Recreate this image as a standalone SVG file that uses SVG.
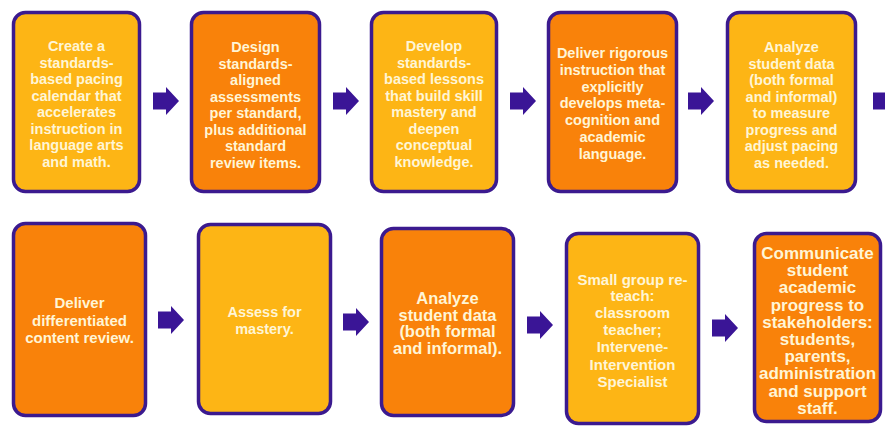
<svg xmlns="http://www.w3.org/2000/svg" xmlns:xlink="http://www.w3.org/1999/xlink" width="885" height="427" viewBox="0 0 885 427">
<style>
.box{stroke:#3B1A8F;stroke-width:3.5}
.y{fill:#FDB515}
.o{fill:#F9820A}
text{font-family:"Liberation Sans",Arial,sans-serif;font-weight:bold;fill:#FFF5D6;text-anchor:middle}
.s{font-size:14.5px}
.arrow{fill:#3A1596}
</style>
<defs>
<path id="arr" d="M0,-8.5 H13 V-14 L26,0 L13,14 V8.5 H0 Z"/>
</defs>
<rect width="885" height="427" fill="#ffffff"/>
<g id="connectors" class="arrow">
<use xlink:href="#arr" x="153" y="101"/>
<use xlink:href="#arr" x="333" y="101"/>
<use xlink:href="#arr" x="510" y="101"/>
<use xlink:href="#arr" x="688" y="101"/>
<use xlink:href="#arr" x="873" y="101"/>
<use xlink:href="#arr" x="158" y="320"/>
<use xlink:href="#arr" x="343" y="322"/>
<use xlink:href="#arr" x="527" y="325"/>
<use xlink:href="#arr" x="712" y="328"/>
</g>
<g id="n1">
<rect class="box y" x="13.5" y="12.5" width="126" height="179" rx="12"/>
<text class="s"><tspan x="76.5" y="51">Create a</tspan><tspan x="76.5" y="67.5">standards-</tspan><tspan x="76.5" y="84">based pacing</tspan><tspan x="76.5" y="100.5">calendar that</tspan><tspan x="76.5" y="117">accelerates</tspan><tspan x="76.5" y="133.5">instruction in</tspan><tspan x="76.5" y="150">language arts</tspan><tspan x="76.5" y="166.5">and math.</tspan></text>
</g>
<g id="n2">
<rect class="box o" x="191.5" y="12.5" width="128" height="179" rx="12"/>
<text class="s"><tspan x="255.5" y="52">Design</tspan><tspan x="255.5" y="68.5">standards-</tspan><tspan x="255.5" y="85">aligned</tspan><tspan x="255.5" y="101.5">assessments</tspan><tspan x="255.5" y="118">per standard,</tspan><tspan x="255.5" y="134.5">plus additional</tspan><tspan x="255.5" y="151">standard</tspan><tspan x="255.5" y="167.5">review items.</tspan></text>
</g>
<g id="n3">
<rect class="box y" x="371.5" y="12.5" width="125" height="179" rx="12"/>
<text class="s"><tspan x="434" y="51">Develop</tspan><tspan x="434" y="67.5">standards-</tspan><tspan x="434" y="84">based lessons</tspan><tspan x="434" y="100.5">that build skill</tspan><tspan x="434" y="117">mastery and</tspan><tspan x="434" y="133.5">deepen</tspan><tspan x="434" y="150">conceptual</tspan><tspan x="434" y="166.5">knowledge.</tspan></text>
</g>
<g id="n4">
<rect class="box o" x="548.5" y="12.5" width="128" height="179" rx="12"/>
<text class="s"><tspan x="612.5" y="58">Deliver rigorous</tspan><tspan x="612.5" y="74.8">instruction that</tspan><tspan x="612.5" y="91.6">explicitly</tspan><tspan x="612.5" y="108.4">develops meta-</tspan><tspan x="612.5" y="125.2">cognition and</tspan><tspan x="612.5" y="142">academic</tspan><tspan x="612.5" y="158.8">language.</tspan></text>
</g>
<g id="n5">
<rect class="box y" x="727.5" y="12.5" width="128" height="179" rx="12"/>
<text class="s"><tspan x="791.5" y="52">Analyze</tspan><tspan x="791.5" y="68.5">student data</tspan><tspan x="791.5" y="85">(both formal</tspan><tspan x="791.5" y="101.5">and informal)</tspan><tspan x="791.5" y="118">to measure</tspan><tspan x="791.5" y="134.5">progress and</tspan><tspan x="791.5" y="151">adjust pacing</tspan><tspan x="791.5" y="167.5">as needed.</tspan></text>
</g>
<g id="n6">
<rect class="box o" x="13.5" y="223.5" width="132" height="192" rx="12"/>
<text style="font-size:15px"><tspan x="79.5" y="308">Deliver</tspan><tspan x="79.5" y="325.5">differentiated</tspan><tspan x="79.5" y="343">content review.</tspan></text>
</g>
<g id="n7">
<rect class="box y" x="198.5" y="224.5" width="132" height="189" rx="12"/>
<text class="s"><tspan x="264.5" y="317">Assess for</tspan><tspan x="264.5" y="333.5">mastery.</tspan></text>
</g>
<g id="n8">
<rect class="box o" x="381.5" y="228.5" width="132" height="187" rx="12"/>
<text style="font-size:16.5px"><tspan x="447.5" y="304">Analyze</tspan><tspan x="447.5" y="320.5">student data</tspan><tspan x="447.5" y="337">(both formal</tspan><tspan x="447.5" y="353.5">and informal).</tspan></text>
</g>
<g id="n9">
<rect class="box y" x="566.5" y="233.5" width="132" height="190" rx="12"/>
<text style="font-size:15px"><tspan x="632.5" y="285">Small group re-</tspan><tspan x="632.5" y="301">teach:</tspan><tspan x="632.5" y="318">classroom</tspan><tspan x="632.5" y="335">teacher;</tspan><tspan x="632.5" y="352">Intervene-</tspan><tspan x="632.5" y="369.5">Intervention</tspan><tspan x="632.5" y="387">Specialist</tspan></text>
</g>
<g id="n10">
<rect class="box o" x="754.5" y="233.5" width="126" height="188" rx="12"/>
<text style="font-size:17px"><tspan x="817.5" y="259">Communicate</tspan><tspan x="817.5" y="276.2">student</tspan><tspan x="817.5" y="293.4">academic</tspan><tspan x="817.5" y="310.6">progress to</tspan><tspan x="817.5" y="327.8">stakeholders:</tspan><tspan x="817.5" y="345">students,</tspan><tspan x="817.5" y="362.2">parents,</tspan><tspan x="817.5" y="379.4">administration</tspan><tspan x="817.5" y="396.6">and support</tspan><tspan x="817.5" y="413.8">staff.</tspan></text>
</g>
</svg>
